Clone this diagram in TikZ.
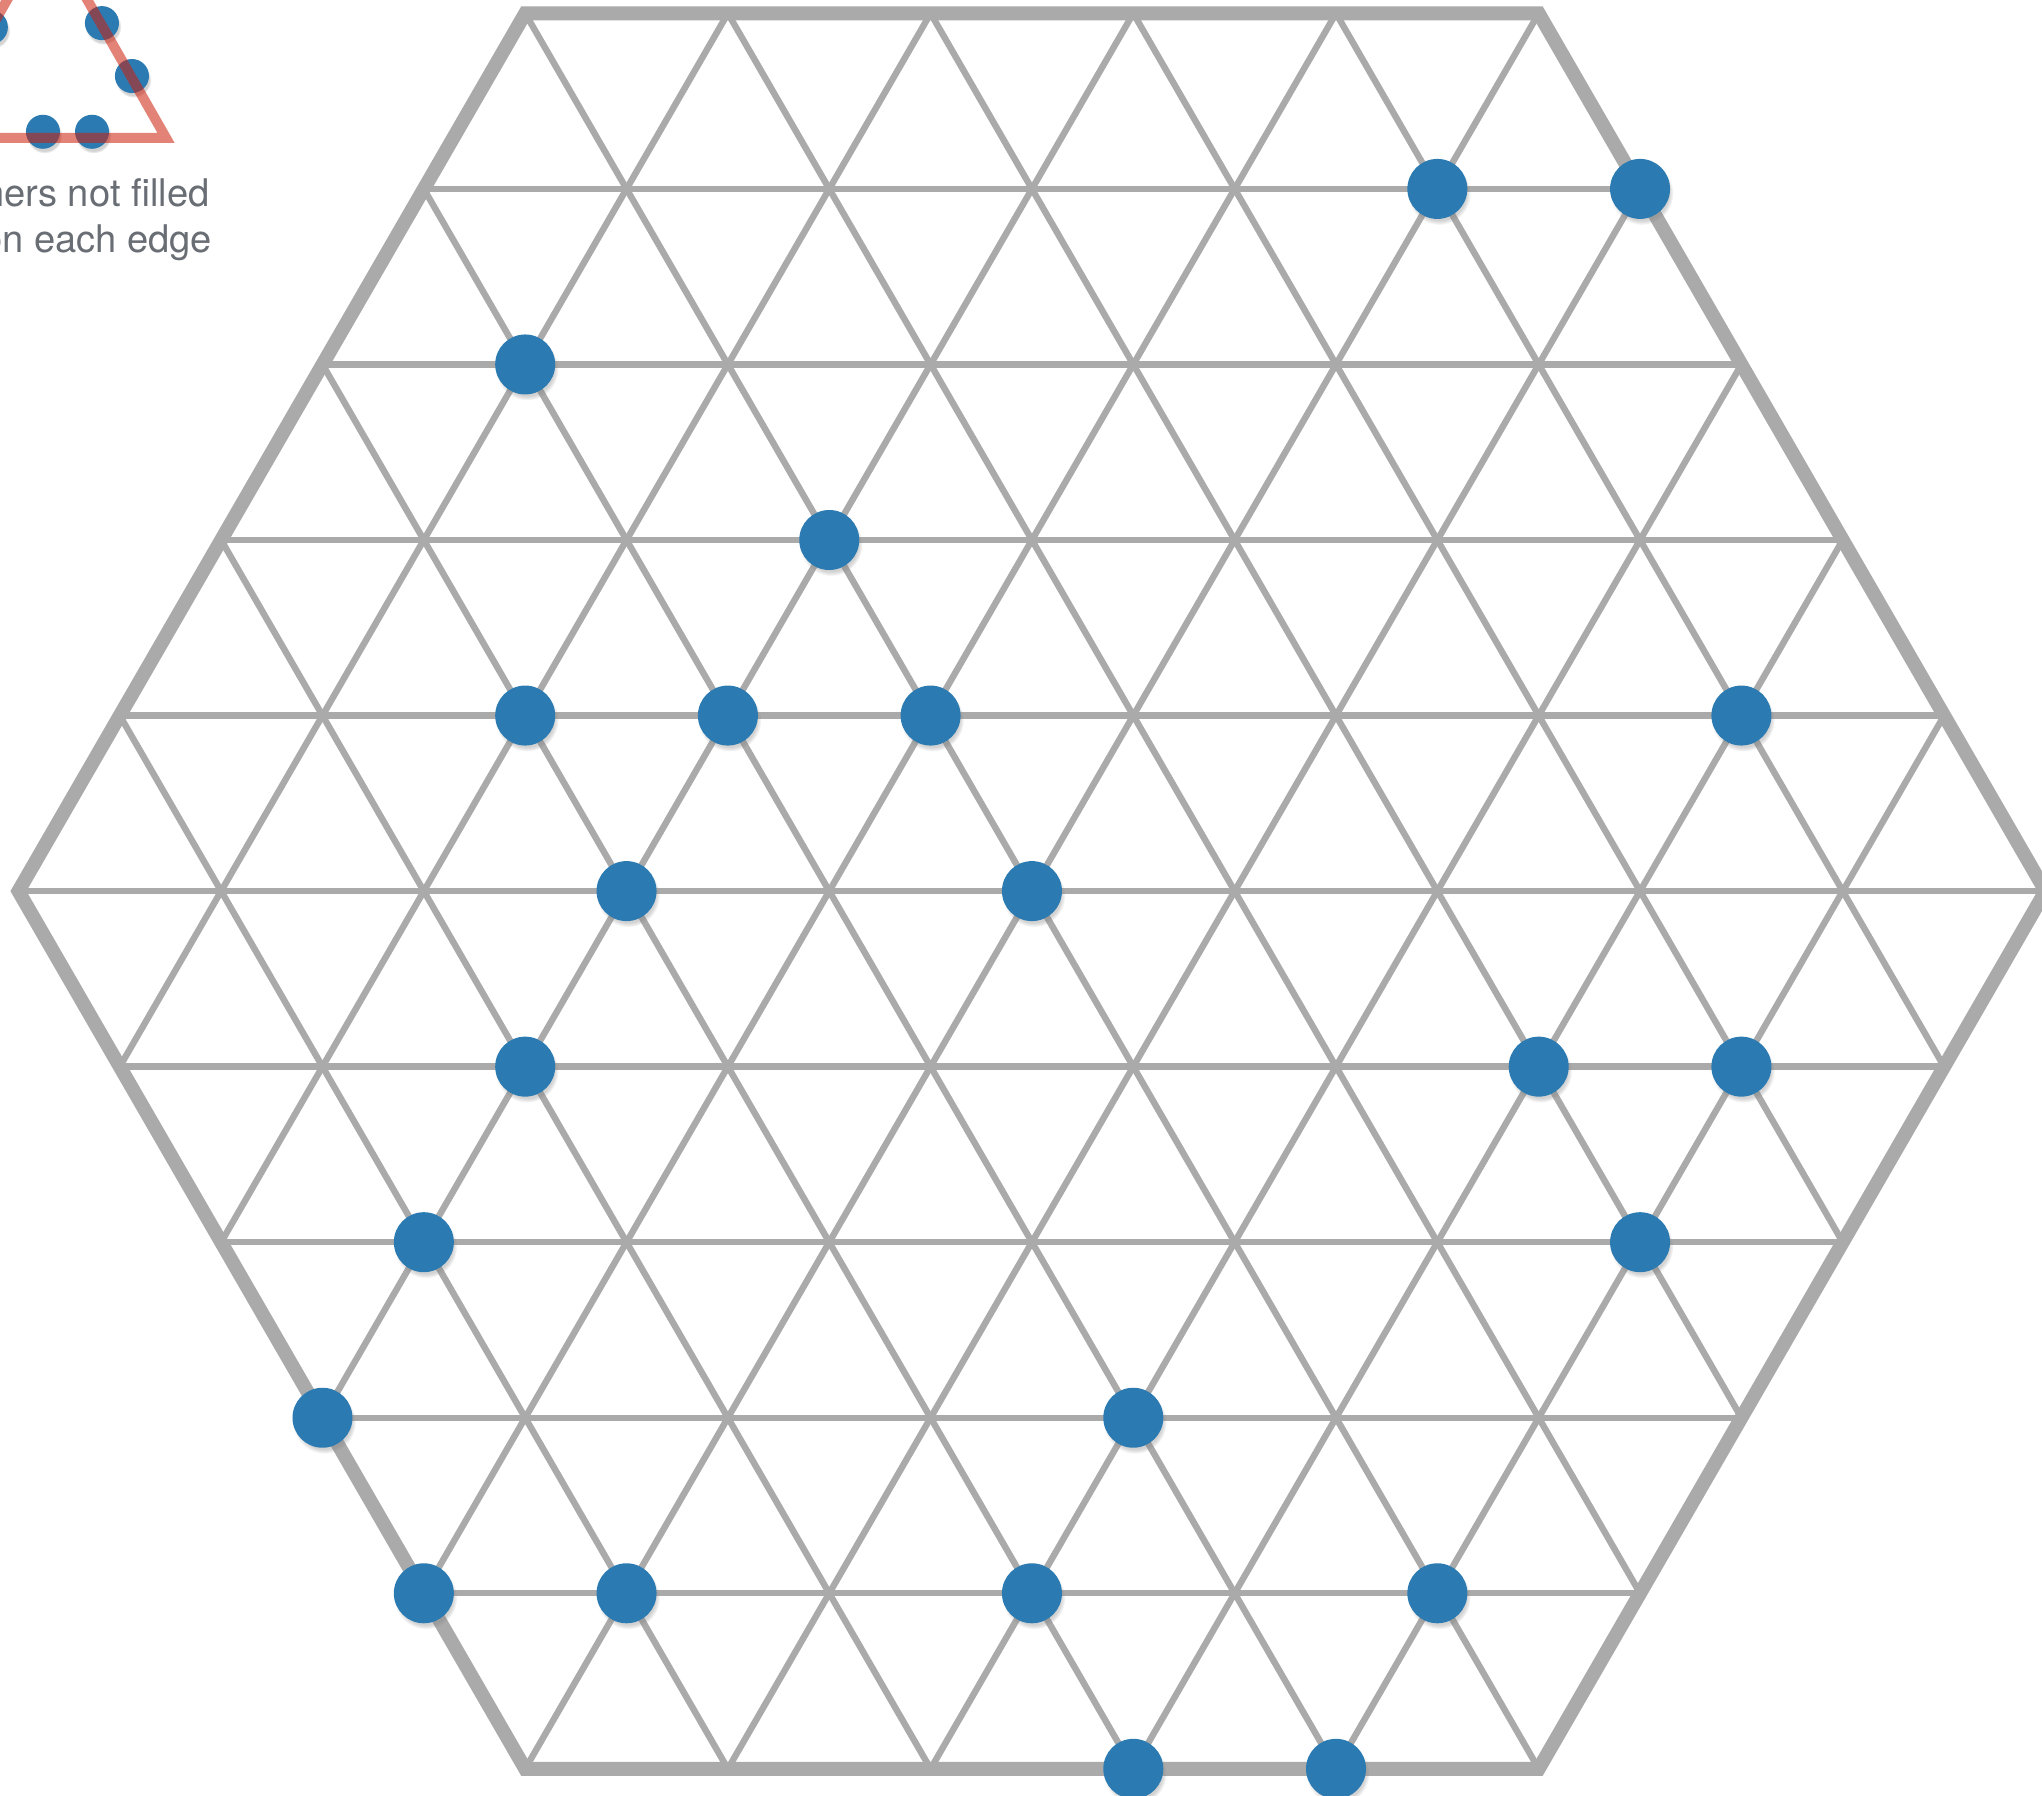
\documentclass[tikz,border=0pt]{standalone}
\usepackage{fontspec}
\setmainfont{TeX Gyre Heros}
\usetikzlibrary{shadows}
\definecolor{gridgray}{RGB}{170,170,170}
\definecolor{dotblue}{RGB}{43,123,178}
\definecolor{legendred}{RGB}{205,30,10}
\definecolor{textgray}{RGB}{105,109,116}
\tikzset{
  gridline/.style={draw=gridgray, line width=0.9pt},
  hexborder/.style={draw=gridgray, line width=1.95pt, line join=miter},
  dot/.style={circle, fill=dotblue, inner sep=0pt, minimum size=0.296cm,
    circular drop shadow={shadow xshift=0.25pt, shadow yshift=-0.6pt, shadow scale=1.05, opacity=0.35}},
  legenddot/.style={circle, fill=dotblue, inner sep=0pt, minimum size=0.168cm,
    circular drop shadow={shadow xshift=0.2pt, shadow yshift=-0.5pt, shadow scale=1.05, opacity=0.35}},
  legendline/.style={draw=legendred, draw opacity=0.55, line width=1.4pt, line join=miter},
  caption/.style={inner sep=0pt, text=textgray, font=\fontsize{5.35}{6}\selectfont, anchor=base east}
}
\begin{document}
\begin{tikzpicture}
\pgfmathsetmacro{\h}{sqrt(3)/2}
\useasboundingbox (-5.091,-4.460) rectangle (4.983,4.396);
\clip (-5.091,-4.460) rectangle (4.983,4.396);
\fill[white] (-5.091,-4.460) rectangle (4.983,4.396);
% grid
\begin{scope}
  \clip (-5,0) -- (-2.5,{-5*\h}) -- (2.5,{-5*\h}) -- (5,0) -- (2.5,{5*\h}) -- (-2.5,{5*\h}) -- cycle;
  \foreach \k in {-4,...,4} {
    \draw[gridline] (-5.5,{\k*\h}) -- (5.5,{\k*\h});
  }
  \foreach \j in {-6,...,6} {
    \draw[gridline] ({\j-2.5},{-5*\h}) -- ({\j+2.5},{5*\h});
    \draw[gridline] ({\j+2.5},{-5*\h}) -- ({\j-2.5},{5*\h});
  }
\end{scope}
\draw[hexborder] (-5,0) -- (-2.5,{-5*\h}) -- (2.5,{-5*\h}) -- (5,0) -- (2.5,{5*\h}) -- (-2.5,{5*\h}) -- cycle;
% dots
\foreach \x/\k [count=\i] in {2/4,3/4,-2.5/3,-1/2,-2.5/1,-1.5/1,-0.5/1,3.5/1,-2/0,0/0,-2.5/-1,2.5/-1,3.5/-1,-3/-2,3/-2,-3.5/-3,0.5/-3,-3/-4,-2/-4,0/-4,2/-4,0.5/-5,1.5/-5} {
  \node[dot] (d\i) at (\x,{\k*\h}) {};
}
% legend (cropped by the picture's edge)
\node[legenddot] (l1) at (-5.136,4.262) {};
\node[legenddot] (l2) at (-4.588,4.282) {};
\node[legenddot] (l3) at (-4.440,4.021) {};
\node[legenddot] (l4) at (-4.879,3.746) {};
\node[legenddot] (l5) at (-4.637,3.746) {};
\draw[legendline] (-4.858,4.744) -- (-4.272,3.716) -- (-5.444,3.716) -- cycle;
\node[caption] (t1) at (-4.050,3.376) {ners not filled};
\node[caption] (t2) at (-4.037,3.152) {on each edge};
\end{tikzpicture}
\end{document}
